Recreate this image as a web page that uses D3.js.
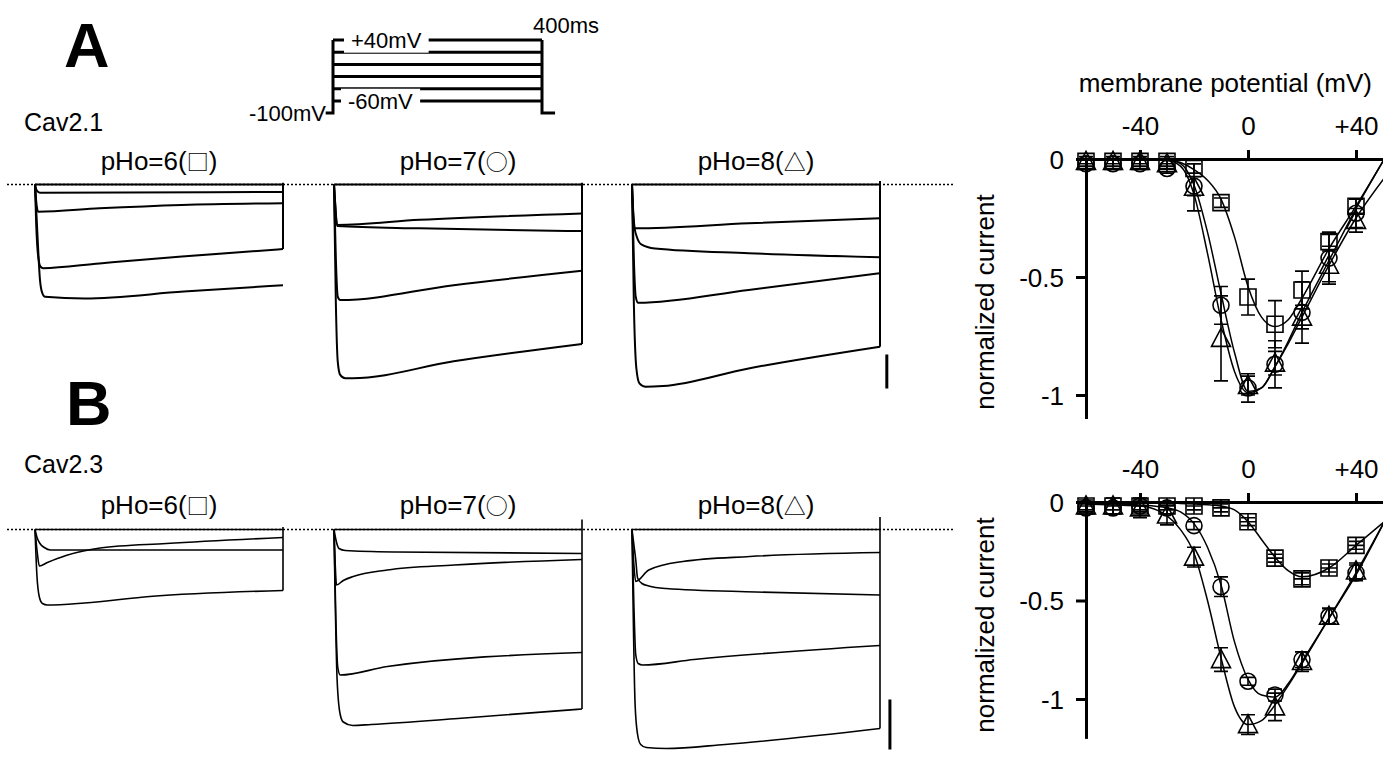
<!DOCTYPE html>
<html>
<head>
<meta charset="utf-8">
<script src="https://cdn.jsdelivr.net/npm/d3@7"></script>
<style>
  body { margin: 0; background: #fff; }
  svg text { font-family: "Liberation Sans", Arial, sans-serif; fill: #000; }
  .sym { font-family: "Noto Sans CJK JP", "DejaVu Sans", sans-serif; }
</style>
</head>
<body>
<svg id="fig" width="1383" height="765"></svg>
<script>
// ---- stimulation protocol ----
const stepLevels = [40, 20, 0, -20, -40, -60];   // mV
const holdingLevel = -100;                        // mV
const stepDuration = 400;                         // ms

const phNames = ["pHo=6", "pHo=7", "pHo=8"];
const phSymbols = ["□", "○", "△"];

// ---- current traces, [time ms, current] (arbitrary units, scale bar = 1) ----
const traceA_pH6 = [
  [[0, 0], [400, 0]],
  [[0, 0], [3, -0.18], [8, -0.24], [400, -0.22]],
  [[0, 0], [2, -0.5], [5, -0.8], [104, -0.7], [237, -0.6], [400, -0.55]],
  [[0, 0], [2, -1.2], [5, -2.1], [9, -2.42], [13, -2.46], [104, -2.32], [237, -2.12], [400, -1.9]],
  [[0, 0], [4, -1.5], [8, -2.8], [11, -3.15], [16, -3.3], [80, -3.35], [240, -3.15], [400, -2.96]]
];
const traceA_pH7 = [
  [[0, 0], [400, 0]],
  [[0, 0], [2, -0.6], [5, -1.19], [138, -1.04], [400, -0.85]],
  [[0, 0], [2, -0.6], [5, -1.22], [138, -1.29], [400, -1.37]],
  [[0, 0], [3, -2.2], [6, -3.3], [10, -3.4], [193, -2.96], [400, -2.54]],
  [[0, 0], [3, -3.5], [6, -5.2], [10, -5.6], [18, -5.7], [30, -5.7], [193, -5.2], [400, -4.69]]
];
const traceA_pH8 = [
  [[0, 0], [400, 0]],
  [[0, 0], [2, -0.9], [4, -1.29], [188, -1.14], [400, -0.99]],
  [[0, 0], [2, -0.8], [4, -1.25], [8, -1.55], [15, -1.76], [37, -1.88], [188, -2.02], [400, -2.14]],
  [[0, 0], [3, -2.2], [6, -3.3], [10, -3.48], [188, -3.1], [400, -2.61]],
  [[0, 0], [3, -3.5], [7, -5.4], [12, -5.85], [22, -5.95], [50, -5.93], [188, -5.41], [400, -4.77]]
];
const traceB_pH6 = [
  [[0, 0], [400, 0]],
  [[0, 0], [3, -0.15], [8, -0.28], [15, -0.36], [25, -0.41], [400, -0.41]],
  [[0, 0], [4, -0.5], [7, -0.73], [20, -0.66], [50, -0.52], [105, -0.37], [212, -0.28], [400, -0.16]],
  [[0, 0], [3, -0.9], [7, -1.35], [12, -1.48], [20, -1.51], [80, -1.47], [185, -1.34], [400, -1.22]]
];
const traceB_pH7 = [
  [[0, 0], [400, 0]],
  [[0, 0], [3, -0.2], [8, -0.38], [18, -0.42], [100, -0.45], [400, -0.48]],
  [[0, 0], [2, -0.7], [4, -1.11], [15, -1.02], [31, -0.94], [86, -0.81], [194, -0.71], [400, -0.6]],
  [[0, 0], [3, -1.8], [6, -2.75], [10, -2.91], [86, -2.74], [400, -2.46]],
  [[0, 0], [5, -3.0], [10, -3.7], [15, -3.85], [30, -3.92], [60, -3.9], [200, -3.78], [400, -3.59]]
];
const traceB_pH8 = [
  [[0, 0], [400, 0]],
  [[0, 0], [3, -0.7], [6, -1.04], [27, -0.81], [82, -0.64], [190, -0.54], [400, -0.46]],
  [[0, 0], [3, -0.3], [6, -0.6], [9, -0.97], [16, -1.08], [27, -1.13], [55, -1.18], [200, -1.25], [400, -1.31]],
  [[0, 0], [3, -1.5], [6, -2.5], [10, -2.68], [17, -2.71], [100, -2.6], [400, -2.32]],
  [[0, 0], [5, -3.5], [9, -4.1], [14, -4.3], [23, -4.36], [55, -4.38], [150, -4.3], [400, -3.98]]
];
// vertical line at the end of the pulse: [top, bottom] per panel
const tailA = [[0.05, -1.9], [0.05, -4.69], [0.1, -4.77]];
const tailB = [[0.05, -1.22], [0.2, -3.59], [0.25, -3.98]];
// scale bars (1 unit), drawn right of the pH8 panel
const scaleBarA = [-5, -6];
const scaleBarB = [-3.4, -4.4];

// ---- I-V relations (normalized current) ----
const ivVoltages = [-60, -50, -40, -30, -20, -10, 0, 10, 20, 30, 40];
const ivA_pH6 = [-0.01, -0.01, -0.01, -0.01, -0.04, -0.185, -0.585, -0.70, -0.555, -0.35, -0.20];
const ivA_pH6_err = [0.01, 0.01, 0.01, 0.02, 0.02, 0.02, 0.076, 0.1, 0.08, 0.04, 0.03];
const ivA_pH7 = [-0.02, -0.02, -0.02, -0.04, -0.115, -0.62, -0.97, -0.87, -0.65, -0.42, -0.23];
const ivA_pH7_err = [0.02, 0.02, 0.02, 0.02, 0.04, 0.08, 0.06, 0.1, 0.13, 0.1, 0.06];
const ivA_pH8 = [-0.01, -0.01, -0.01, -0.02, -0.12, -0.76, -0.96, -0.865, -0.67, -0.45, -0.26];
const ivA_pH8_err = [0.02, 0.02, 0.02, 0.02, 0.1, 0.18, 0.04, 0.05, 0.05, 0.08, 0.05];

const ivB_pH6 = [-0.02, -0.02, -0.02, -0.02, -0.02, -0.03, -0.1, -0.285, -0.39, -0.335, -0.22];
const ivB_pH6_err = [0.02, 0.02, 0.02, 0.02, 0.02, 0.02, 0.02, 0.02, 0.03, 0.02, 0.02];
const ivB_pH7 = [-0.03, -0.03, -0.02, -0.03, -0.12, -0.43, -0.91, -0.98, -0.80, -0.58, -0.36];
const ivB_pH7_err = [0.02, 0.03, 0.03, 0.03, 0.02, 0.05, 0.02, 0.03, 0.04, 0.04, 0.04];
const ivB_pH8 = [-0.02, -0.02, -0.03, -0.066, -0.28, -0.80, -1.13, -1.04, -0.81, -0.58, -0.35];
const ivB_pH8_err = [0.03, 0.04, 0.05, 0.05, 0.05, 0.06, 0.05, 0.07, 0.05, 0.04, 0.04];

// fitted curves
const fitVoltages = [-60, -50, -40, -30, -25, -20, -15, -10, -5, 0, 5, 10, 15, 20, 30, 40, 50.5];
const fitA_pH6 = [0, 0, 0, -0.003, -0.015, -0.045, -0.09, -0.17, -0.33, -0.54, -0.67, -0.71, -0.68, -0.59, -0.38, -0.2, 0];
const fitA_pH7 = [0, 0, 0, -0.003, -0.02, -0.11, -0.31, -0.57, -0.82, -0.985, -0.97, -0.88, -0.77, -0.65, -0.43, -0.21, 0];
const fitA_pH8 = [0, 0, 0, -0.005, -0.03, -0.15, -0.4, -0.68, -0.9, -0.99, -0.97, -0.88, -0.78, -0.67, -0.45, -0.25, -0.08];
const fitB_pH6 = [-0.005, -0.005, -0.005, -0.005, -0.007, -0.01, -0.014, -0.02, -0.04, -0.1, -0.19, -0.28, -0.35, -0.38, -0.335, -0.22, -0.1];
const fitB_pH7 = [-0.01, -0.01, -0.015, -0.03, -0.05, -0.11, -0.23, -0.42, -0.71, -0.9, -0.98, -0.99, -0.92, -0.81, -0.59, -0.37, -0.1];
const fitB_pH8 = [-0.01, -0.015, -0.02, -0.07, -0.14, -0.26, -0.5, -0.79, -1.04, -1.13, -1.11, -1.03, -0.93, -0.82, -0.59, -0.36, -0.1];

const ivTicksX = [-40, 0, 40];
const ivTicksY = [0, -0.5, -1];

// ======================================================================
const svg = d3.select("#fig");

// panel letters + channel names
svg.append("text").attr("x", 64).attr("y", 67)
  .style("font-size", "63px").style("font-weight", "bold").text("A");
svg.append("text").attr("x", 66).attr("y", 425)
  .style("font-size", "63px").style("font-weight", "bold").text("B");
svg.append("text").attr("x", 24).attr("y", 131).style("font-size", "25px").text("Cav2.1");
svg.append("text").attr("x", 24).attr("y", 473).style("font-size", "25px").text("Cav2.3");

// ---- protocol sketch ----
const protoX = d3.scaleLinear().domain([0, stepDuration]).range([333, 542]);
const protoY = d3.scaleLinear().domain([-100, -60, 40]).range([113, 101, 40]); // schematic, not to scale
const proto = svg.append("g").attr("stroke", "#000").attr("stroke-width", 3).attr("fill", "none");
proto.selectAll("line.step").data(stepLevels).enter().append("line")
  .attr("x1", protoX(0)).attr("x2", protoX(stepDuration))
  .attr("y1", d => protoY(d)).attr("y2", d => protoY(d));
proto.append("path").attr("d",
  `M${protoX(-14)},${protoY(holdingLevel)}H${protoX(0)}V${protoY(d3.max(stepLevels))}` +
  `M${protoX(stepDuration)},${protoY(d3.max(stepLevels))}V${protoY(holdingLevel)}H${protoX(stepDuration + 25)}`);

function labelOnLine(x, y, txt) {
  const g = svg.append("g");
  const t = g.append("text").attr("x", x).attr("y", y).attr("dy", "0.35em")
    .style("font-size", "22px").text(txt);
  const b = t.node().getBBox();
  g.insert("rect", "text").attr("x", b.x - 7).attr("y", b.y).attr("width", b.width + 14)
    .attr("height", b.height).attr("fill", "#fff");
}
labelOnLine(351, protoY(40), "+40mV");
labelOnLine(348, protoY(-60), "-60mV");
svg.append("text").attr("x", 326).attr("y", protoY(holdingLevel)).attr("dy", "0.35em")
  .attr("text-anchor", "end").style("font-size", "22px").text("-100mV");
svg.append("text").attr("x", 533).attr("y", 33).style("font-size", "22px").text("400ms");

// ---- current traces ----
const panelX0 = [35, 334, 632];
const panelW = 248;
const rows = [
  { traces: [traceA_pH6, traceA_pH7, traceA_pH8], tails: tailA, bar: scaleBarA, base: 184.5, unit: 34, titleY: 170, barT: 411, sw: 2 },
  { traces: [traceB_pH6, traceB_pH7, traceB_pH8], tails: tailB, bar: scaleBarB, base: 529.5, unit: 50, titleY: 514, barT: 416, sw: 1.6 }
];

rows.forEach(row => {
  // dotted zero line
  svg.append("line").attr("x1", 7).attr("x2", 955).attr("y1", row.base).attr("y2", row.base)
    .attr("stroke", "#000").attr("stroke-width", 1.3).attr("stroke-dasharray", "2,2");

  row.traces.forEach((set, p) => {
    const x = d3.scaleLinear().domain([0, stepDuration]).range([panelX0[p], panelX0[p] + panelW]);
    const y = d3.scaleLinear().domain([0, -1]).range([row.base, row.base + row.unit]);
    const line = d3.line().x(d => x(d[0])).y(d => y(d[1])).curve(d3.curveMonotoneX);

    const title = svg.append("text").attr("x", panelX0[p] + panelW / 2).attr("y", row.titleY)
      .attr("text-anchor", "middle").style("font-size", "26px");
    title.append("tspan").text(phNames[p] + "(");
    title.append("tspan").attr("class", "sym").style("font-size", "22px").text(phSymbols[p]);
    title.append("tspan").text(")");

    const g = svg.append("g");
    g.selectAll("path").data(set).enter().append("path")
      .attr("d", line).attr("fill", "none").attr("stroke", "#000").attr("stroke-width", row.sw);

    const tail = row.tails[p];
    g.append("line").attr("x1", x(stepDuration)).attr("x2", x(stepDuration))
      .attr("y1", y(tail[0])).attr("y2", y(tail[1]))
      .attr("stroke", "#000").attr("stroke-width", row.sw);

    if (p === 2) {
      g.append("line").attr("x1", x(row.barT)).attr("x2", x(row.barT))
        .attr("y1", y(row.bar[0])).attr("y2", y(row.bar[1]))
        .attr("stroke", "#000").attr("stroke-width", 3);
    }
  });
});

// ---- I-V plots ----
const xIV = d3.scaleLinear().domain([-60, 50]).range([1086, 1383]);
const ivPanels = [
  { y: d3.scaleLinear().domain([0, -1]).range([159, 395]), yMin: -1.1, labelY: 302, cross: false,
    series: [[ivA_pH6, ivA_pH6_err, fitA_pH6], [ivA_pH7, ivA_pH7_err, fitA_pH7], [ivA_pH8, ivA_pH8_err, fitA_pH8]] },
  { y: d3.scaleLinear().domain([0, -1]).range([502, 699]), yMin: -1.2, labelY: 625, cross: true,
    series: [[ivB_pH6, ivB_pH6_err, fitB_pH6], [ivB_pH7, ivB_pH7_err, fitB_pH7], [ivB_pH8, ivB_pH8_err, fitB_pH8]] }
];

const markerPath = [
  "M-8,-8H8V8H-8Z",
  "M8,0A8,8 0 1,1 -8,0A8,8 0 1,1 8,0Z",
  "M0,-10L9.5,8H-9.5Z"
];

svg.append("text").attr("x", 1372).attr("y", 92).attr("text-anchor", "end")
  .style("font-size", "26px").text("membrane potential (mV)");

ivPanels.forEach(pan => {
  const y = pan.y;
  const g = svg.append("g");

  // fitted curves
  const fitLine = d3.line().x(d => xIV(d[0])).y(d => y(d[1])).curve(d3.curveMonotoneX);
  pan.series.forEach(s => {
    g.append("path").datum(fitVoltages.map((v, i) => [v, s[2][i]]))
      .attr("d", fitLine).attr("fill", "none").attr("stroke", "#000").attr("stroke-width", 1.5);
  });

  // axes
  const ax = g.append("g").attr("transform", `translate(0,${y(0)})`)
    .call(d3.axisTop(xIV).tickValues(ivTicksX).tickSize(9).tickSizeOuter(0).tickPadding(15)
      .tickFormat(d => d > 0 ? "+" + d : String(d)));
  const ay = g.append("g").attr("transform", `translate(${xIV(-60)},0)`)
    .call(d3.axisLeft(y.copy().domain([0, pan.yMin]).range([y(0), y(pan.yMin)]))
      .tickValues(ivTicksY).tickSize(10).tickSizeOuter(0).tickPadding(12)
      .tickFormat(d => String(d)));
  [ax, ay].forEach(a => {
    a.selectAll("path, line").attr("stroke", "#000").attr("stroke-width", 3);
    a.selectAll("text").style("font-size", "26px").attr("fill", "#000")
      .style("font-family", '"Liberation Sans", Arial, sans-serif');
  });
  ay.selectAll("text").attr("dy", "0.35em");

  // error bars and markers
  pan.series.forEach((s, k) => {
    const pts = ivVoltages.map((v, i) => ({ v, m: s[0][i], e: s[1][i] }));
    const eb = g.append("g").attr("stroke", "#000").attr("stroke-width", 1.6).attr("fill", "none");
    eb.selectAll("path").data(pts).enter().append("path")
      .attr("d", d => {
        const x = xIV(d.v), y1 = y(d.m + d.e), y2 = y(d.m - d.e);
        return `M${x},${y1}V${y2}M${x - 7},${y1}H${x + 7}M${x - 7},${y2}H${x + 7}`;
      });
    const mk = g.append("g").attr("stroke", "#000").attr("stroke-width", 1.6).attr("fill", "none");
    mk.selectAll("path").data(pts).enter().append("path")
      .attr("transform", d => `translate(${xIV(d.v)},${y(d.m)})`)
      .attr("d", markerPath[k] + (k === 0 && pan.cross ? "M-8,0H8M0,-8V8" : ""));
  });

  svg.append("text")
    .attr("transform", `translate(994,${pan.labelY}) rotate(-90)`)
    .attr("text-anchor", "middle").style("font-size", "26px").text("normalized current");
});
</script>
</body>
</html>
